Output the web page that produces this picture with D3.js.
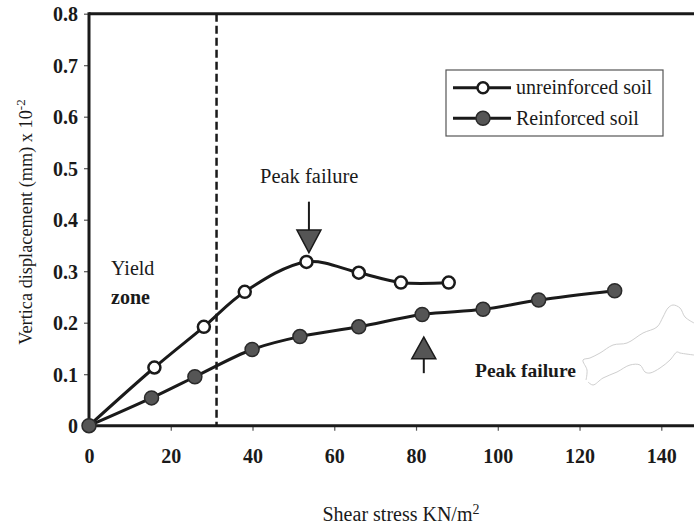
<!DOCTYPE html>
<html>
<head>
<meta charset="utf-8">
<script src="https://cdn.jsdelivr.net/npm/d3@7"></script>
<style>
  html, body { margin: 0; padding: 0; background: #fff; }
  svg { display: block; }
  text { font-family: "Liberation Serif", "Times New Roman", serif; }
</style>
</head>
<body>
<svg id="chart" width="694" height="529"></svg>
<script>
// ---- data ----
const unreinforcedStress = [0, 16, 28.1, 38.1, 53.2, 66, 76.3, 88];
const unreinforcedDisp   = [0, 0.113, 0.192, 0.26, 0.318, 0.297, 0.278, 0.278];
const reinforcedStress   = [0, 15.3, 25.9, 39.9, 51.6, 66, 81.5, 96.4, 110, 128.6];
const reinforcedDisp     = [0, 0.054, 0.095, 0.148, 0.173, 0.192, 0.216, 0.226, 0.244, 0.262];
const xTicks = [0, 20, 40, 60, 80, 100, 120, 140];
const yTicks = [0, 0.1, 0.2, 0.3, 0.4, 0.5, 0.6, 0.7, 0.8];
const yieldLimit = 31.2;
const seriesNames = ["unreinforced soil", "Reinforced soil"];

// ---- layout ----
const svg = d3.select("#chart");
const x = d3.scaleLinear().domain([0, 148]).range([89, 694]);
const y = d3.scaleLinear().domain([0, 0.8]).range([425.7, 13.7]);

const ink = "#1a1a1a";
const serif = "Liberation Serif";

// faint scan artefact outline (bottom right)
const blob = [[586,380],[587,370],[583,360],[590,358],[600,353],[613,345],[627,343],[643,333],[657,327],[663,317],[668,308],[673,305],[680,308],[685,317],[694,323]];
const blob2 = [[694,355],[680,353],[677,352],[670,360],[660,368],[650,373],[645,372],[640,365],[630,365],[617,372],[603,378],[593,385],[588,382]];
svg.append("path").attr("d", d3.line().curve(d3.curveCatmullRom)(blob))
  .attr("fill", "none").attr("stroke", "#cfcfcf").attr("stroke-width", 1);
svg.append("path").attr("d", d3.line().curve(d3.curveCatmullRom)(blob2))
  .attr("fill", "none").attr("stroke", "#cfcfcf").attr("stroke-width", 1);

// axes
const xAxis = d3.axisBottom(x).tickValues(xTicks).tickSize(5).tickFormat(d => d);
const gx = svg.append("g").attr("transform", `translate(0,${y(0)})`).call(xAxis)
  .attr("font-family", serif);
gx.select(".domain").remove();
gx.selectAll(".tick line").attr("stroke", "#555").attr("stroke-width", 1.2);
gx.selectAll(".tick text").attr("font-size", 20).attr("font-weight", "bold")
  .attr("fill", ink).attr("dy", 0).attr("y", 37);
gx.selectAll(".tick").filter(d => d === 0).select("line").remove();

const yAxis = d3.axisLeft(y).tickValues(yTicks).tickSize(5).tickFormat(d => d === 0 ? "0" : d3.format(".1f")(d));
const gy = svg.append("g").attr("transform", `translate(${x(0)},0)`).call(yAxis)
  .attr("font-family", serif);
gy.select(".domain").remove();
gy.selectAll(".tick line").attr("stroke", "#555").attr("stroke-width", 1.2);
gy.selectAll(".tick text").attr("font-size", 20).attr("font-weight", "bold")
  .attr("fill", ink).attr("x", -11).attr("dy", "0.35em");

// frame lines
svg.append("line").attr("x1", x(0)).attr("x2", 694).attr("y1", y(0)).attr("y2", y(0))
  .attr("stroke", ink).attr("stroke-width", 3);
svg.append("line").attr("x1", x(0)).attr("x2", 694).attr("y1", y(0.8)).attr("y2", y(0.8))
  .attr("stroke", ink).attr("stroke-width", 3);
svg.append("line").attr("x1", x(0)).attr("x2", x(0)).attr("y1", y(0.8) - 1.5).attr("y2", y(0) + 1.5)
  .attr("stroke", ink).attr("stroke-width", 3);

// yield boundary
svg.append("line").attr("x1", x(yieldLimit)).attr("x2", x(yieldLimit))
  .attr("y1", y(0.8)).attr("y2", y(0))
  .attr("stroke", ink).attr("stroke-width", 2.5).attr("stroke-dasharray", "8,4");

// series
const uData = unreinforcedStress.map((s, i) => [s, unreinforcedDisp[i]]);
const rData = reinforcedStress.map((s, i) => [s, reinforcedDisp[i]]);
const line = d3.line().x(d => x(d[0])).y(d => y(d[1])).curve(d3.curveCatmullRom.alpha(0.5));

svg.append("path").datum(rData).attr("d", line)
  .attr("fill", "none").attr("stroke", ink).attr("stroke-width", 3);
svg.append("path").datum(uData).attr("d", line)
  .attr("fill", "none").attr("stroke", ink).attr("stroke-width", 3);

svg.append("g").selectAll("circle").data(rData).join("circle")
  .attr("cx", d => x(d[0])).attr("cy", d => y(d[1])).attr("r", 7)
  .attr("fill", "#555").attr("stroke", "#2a2a2a").attr("stroke-width", 1.5);
svg.append("g").selectAll("circle").data(uData.slice(1)).join("circle")
  .attr("cx", d => x(d[0])).attr("cy", d => y(d[1])).attr("r", 6)
  .attr("fill", "#fff").attr("stroke", ink).attr("stroke-width", 2.5);

// arrows
function arrow(cx, yStem, yBase, yTip) {
  svg.append("line").attr("x1", cx).attr("x2", cx).attr("y1", yStem).attr("y2", yBase)
    .attr("stroke", ink).attr("stroke-width", 2);
  svg.append("path").attr("d", `M${cx - 12},${yBase}L${cx + 12},${yBase}L${cx},${yTip}Z`)
    .attr("fill", "#555").attr("stroke", ink).attr("stroke-width", 1.5);
}
arrow(x(53.8), y(0.435), y(0.38), y(0.336));
arrow(x(81.9), y(0.102), y(0.13), y(0.172));

// annotation text
svg.append("text").attr("x", 260).attr("y", 183).attr("font-size", 20.5).attr("fill", ink)
  .text("Peak failure");
svg.append("text").attr("x", 475).attr("y", 377).attr("font-size", 19.5).attr("font-weight", "bold").attr("fill", ink)
  .text("Peak failure");
svg.append("text").attr("x", 111).attr("y", 275).attr("font-size", 20).attr("fill", ink).text("Yield");
svg.append("text").attr("x", 111).attr("y", 304).attr("font-size", 20).attr("font-weight", "bold").attr("fill", ink).text("zone");

// axis titles
svg.append("text").attr("x", 401).attr("y", 521).attr("text-anchor", "middle")
  .attr("font-size", 20).attr("fill", ink)
  .html('Shear stress KN/m<tspan dy="-7" font-size="14">2</tspan>');
svg.append("text").attr("transform", "translate(32,222) rotate(-90)").attr("text-anchor", "middle")
  .attr("font-size", 18.3).attr("fill", ink)
  .html('Vertica displacement (mm) x 10<tspan dy="-7" font-size="13">-2</tspan>');

// legend
const lg = svg.append("g");
lg.append("rect").attr("x", 446).attr("y", 70).attr("width", 217).attr("height", 66)
  .attr("fill", "#fff").attr("stroke", "#555").attr("stroke-width", 1.2);
const rows = [87.7, 118.3];
seriesNames.forEach((name, i) => {
  lg.append("line").attr("x1", 453).attr("x2", 511).attr("y1", rows[i]).attr("y2", rows[i])
    .attr("stroke", ink).attr("stroke-width", 3);
  if (i === 0) {
    lg.append("circle").attr("cx", 483).attr("cy", rows[i]).attr("r", 5.5)
      .attr("fill", "#fff").attr("stroke", ink).attr("stroke-width", 2.5);
  } else {
    lg.append("circle").attr("cx", 483).attr("cy", rows[i]).attr("r", 7)
      .attr("fill", "#555").attr("stroke", "#2a2a2a").attr("stroke-width", 1.5);
  }
  lg.append("text").attr("x", 516).attr("y", rows[i] + 6.5).attr("font-size", 20).attr("fill", ink).text(name);
});

svg.selectAll("text").attr("font-family", serif);
</script>
</body>
</html>
